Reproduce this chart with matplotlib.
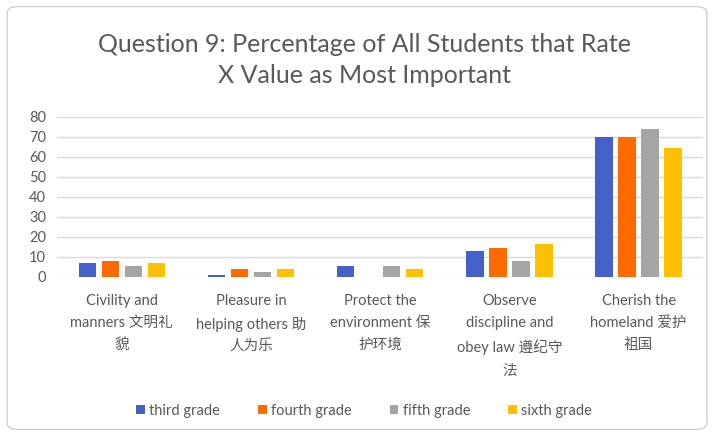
import matplotlib.pyplot as plt
import numpy as np
from matplotlib.patches import FancyBboxPatch

plt.rcParams['font.family'] = ['Lato', 'Noto Sans CJK SC', 'DejaVu Sans']

# categories and values
categories = ["Civility and\nmanners 文明礼\n貌",
              "Pleasure in\nhelping others 助\n人为乐",
              "Protect the\nenvironment 保\n护环境",
              "Observe\ndiscipline and\nobey law 遵纪守\n法",
              "Cherish the\nhomeland 爱护\n祖国"]
grades = ["third grade", "fourth grade", "fifth grade", "sixth grade"]
third = [6.7, 0.8, 5.3, 13.0, 70.0]
fourth = [8.0, 3.7, 0.0, 14.5, 70.0]
fifth = [5.3, 2.5, 5.3, 7.8, 73.7]
sixth = [6.7, 3.7, 3.7, 16.2, 64.5]
colors = ["#4361C9", "#FF6A00", "#A5A5A5", "#FFC000"]

fig = plt.figure(figsize=(7.14, 4.36), dpi=100)
ax = fig.add_axes([0.08, 0.365, 0.905, 0.367])

x = np.arange(len(categories))
pitch = 0.178
width = 0.135
for i, (vals, lab) in enumerate(zip([third, fourth, fifth, sixth], grades)):
    ax.bar(x + (i - 1.5) * pitch, vals, width, color=colors[i], label=lab, zorder=3)

ax.set_xlim(-0.5, 4.5)
ax.set_ylim(0, 80)
ax.set_yticks(range(0, 81, 10))
ax.grid(axis='y', color='#D9D9D9', linewidth=1, zorder=0)
for s in ax.spines.values():
    s.set_visible(False)
ax.tick_params(length=0, labelsize=10.5, colors='#595959')
ax.set_xticks(x)
ax.set_xticklabels(categories, fontsize=10.5, color='#595959', linespacing=1.75)
ax.tick_params(axis='x', pad=12)
ax.tick_params(axis='y', pad=8)

fig.suptitle("Question 9: Percentage of All Students that Rate\nX Value as Most Important",
             x=0.51, y=0.925, fontsize=18, color='#595959', linespacing=1.45)

fig.legend(loc='center', bbox_to_anchor=(0.51, 0.058), ncol=4, frameon=False,
           fontsize=10.5, handlelength=0.6, handleheight=0.6, handletextpad=0.3,
           columnspacing=2.6, labelcolor='#595959')

border = FancyBboxPatch((0.01, 0.015), 0.98, 0.97, boxstyle="round,pad=0,rounding_size=0.015",
                        transform=fig.transFigure, fill=False, edgecolor='#D0D0D0', linewidth=1)
fig.patches.append(border)

fig.savefig("out.png", dpi=100)
